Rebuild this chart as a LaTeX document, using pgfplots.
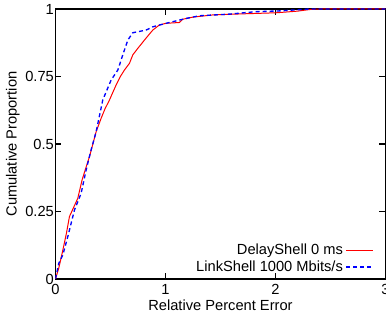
\documentclass[border=0pt]{standalone}
\usepackage{pgfplots}
\pgfplotsset{compat=1.18}
\usepackage{fontspec}
\setmainfont{Liberation Sans}
\begin{document}
\fontsize{11pt}{13pt}\selectfont
\begin{tikzpicture}
\begin{axis}[
  at={(41.6pt,25.5pt)}, anchor=south west,
  scale only axis, width=247.5pt, height=202.5pt,
  xmin=0, xmax=3, ymin=0, ymax=1,
  xtick={0,1,2,3}, ytick={0,0.25,0.5,0.75,1},
  yticklabels={0,0.25,0.5,0.75,1},
  xticklabels={0,1,2,3},
  /pgf/number format/assume math mode=true,
  tick align=inside, tick pos=both,
  major tick length=4.5pt,
  tick style={black, line width=0.8pt},
  axis line style={black, line width=1pt},
  yticklabel style={inner sep=1pt, font=\fontsize{11pt}{13pt}\selectfont},
  xticklabel style={font=\fontsize{11pt}{13pt}\selectfont},
  xlabel={Relative Percent Error},
  ylabel={Cumulative Proportion},
  xlabel style={at={(axis description cs:0.5,-0.096)}, anchor=center, font=\fontsize{11pt}{13pt}\selectfont},
  ylabel style={at={(axis description cs:-0.129,0.5)}, anchor=center, rotate=0, font=\fontsize{11pt}{13pt}\selectfont},
  legend style={at={(axis description cs:0.977,0.0)}, anchor=south east, draw=none, fill=none, font=\fontsize{11pt}{12.5pt}\selectfont, row sep=-1pt},
  legend cell align=right,
  legend plot pos=right,
  legend image code/.code={\draw[mark repeat=2,mark phase=2,#1] plot coordinates {(0pt,0pt) (10pt,0pt) (20pt,0pt)};},
]
\addplot[color=red, line width=0.75pt] coordinates {
(0,0) (0.03,0.04) (0.067,0.107) (0.1,0.17) (0.127,0.231) (0.165,0.265) (0.203,0.299) (0.242,0.367) (0.275,0.41) (0.309,0.453) (0.34,0.5) (0.37,0.546) (0.415,0.595) (0.45,0.63) (0.491,0.663) (0.52,0.69) (0.552,0.719) (0.59,0.75) (0.627,0.774) (0.673,0.799) (0.703,0.83) (0.748,0.854) (0.78,0.87) (0.809,0.885) (0.85,0.905) (0.885,0.922) (0.945,0.941) (1.006,0.947) (1.127,0.95) (1.157,0.962) (1.25,0.97) (1.43,0.978) (1.7,0.982) (2.006,0.986) (2.2,0.992) (2.309,0.998) (2.4,1) (3,1)
};
\addlegendentry{DelayShell 0 ms}
\addplot[color=blue, line width=1pt, dash pattern=on 3pt off 2.25pt] coordinates {
(0,0) (0.03,0.058) (0.067,0.089) (0.112,0.157) (0.173,0.256) (0.233,0.317) (0.279,0.404) (0.324,0.478) (0.37,0.546) (0.43,0.663) (0.506,0.737) (0.567,0.774) (0.612,0.83) (0.658,0.885) (0.703,0.912) (0.824,0.922) (0.885,0.934) (1.006,0.947) (1.188,0.965) (1.31,0.975) (1.58,0.981) (1.82,0.99) (2.04,0.993) (2.31,1.0) (3,1)
};
\addlegendentry{LinkShell 1000 Mbits/s}
\end{axis}
\pgfresetboundingbox
\path[use as bounding box] (0,0) rectangle (289.5pt,234.75pt);
\end{tikzpicture}
\end{document}
